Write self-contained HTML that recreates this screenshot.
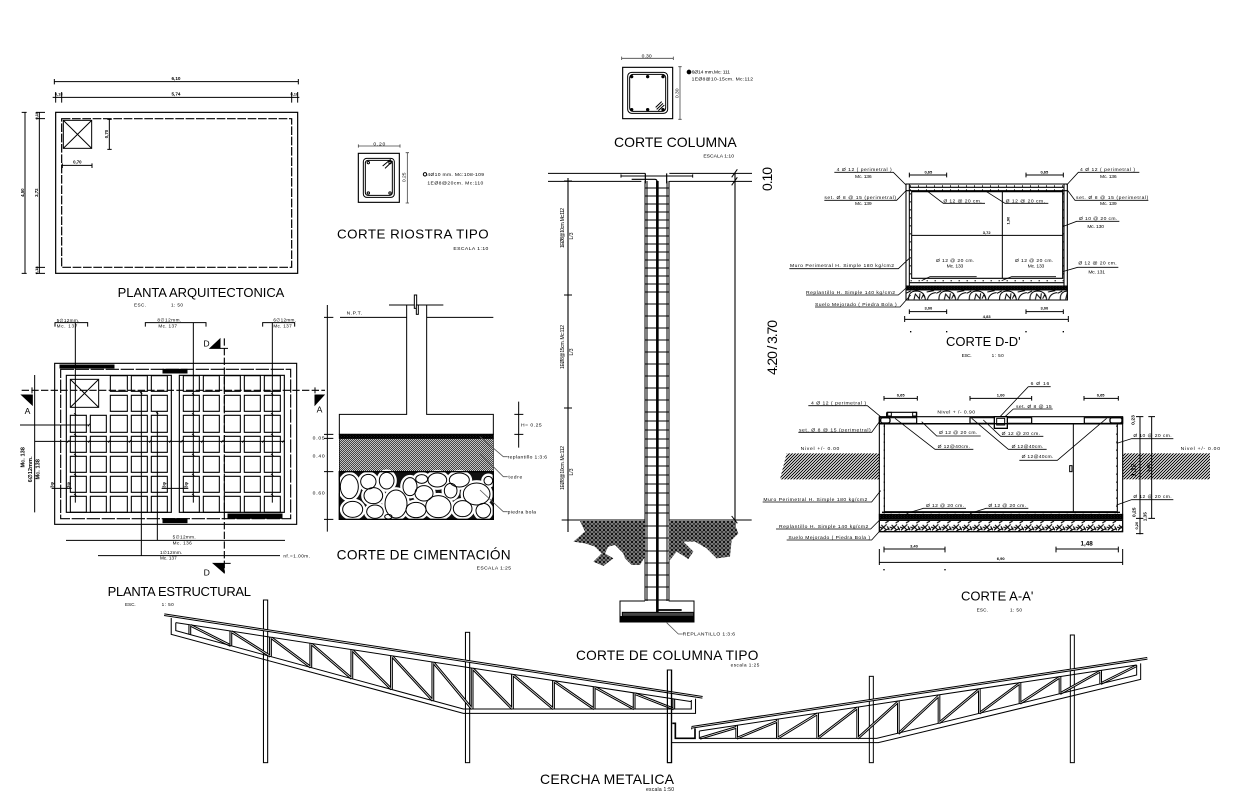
<!DOCTYPE html>
<html><head><meta charset="utf-8"><title>Planos</title>
<style>
html,body{margin:0;padding:0;background:#fff}
svg{display:block}
text{font-family:"Liberation Sans",sans-serif;fill:#000;stroke:none}
.b{font-weight:bold}
.m{text-anchor:middle}
.thin{stroke-width:2}
</style></head><body>
<svg xmlns="http://www.w3.org/2000/svg" width="1242" height="804" viewBox="0 0 1242 804" fill="none" stroke="#000" stroke-width="3">
<defs>
<pattern id="h" patternUnits="userSpaceOnUse" width="6" height="6"><path d="M-2 8L8 -2M-2 2L2 -2M4 8L8 4" stroke="#000" stroke-width="2" fill="none"/></pattern>
<pattern id="hl" patternUnits="userSpaceOnUse" width="9" height="9"><path d="M-3 12L12 -3M-3 3L3 -3M6 12L12 6" stroke="#000" stroke-width="3" fill="none"/></pattern>
<pattern id="sp" patternUnits="userSpaceOnUse" width="9" height="6"><rect width="9" height="6" fill="#555"/><circle cx="2" cy="2" r="2" fill="#fff"/><circle cx="6.5" cy="4.5" r="1.8" fill="#fff"/></pattern>
<pattern id="ea" patternUnits="userSpaceOnUse" width="12" height="12"><rect width="12" height="12" fill="#333"/><path d="M0 6L6 0M6 12L12 6M6 0L12 6M0 6L6 12" stroke="#aaa" stroke-width="1.6"/></pattern>
<pattern id="stD" patternUnits="userSpaceOnUse" x="378" y="390" width="91" height="30"><path d="M8 30Q6 4 30 3Q56 3 58 30M64 30Q68 10 90 8M24 28L28 12L40 26L42 10M46 26L52 14L58 26M0 10L14 3M62 6L84 2" stroke="#000" stroke-width="3" fill="none"/></pattern>
<pattern id="stA" patternUnits="userSpaceOnUse" x="358" y="436" width="31" height="35"><path d="M3 30L22 12M6 14L20 28M14 32L30 24M18 8L28 2M0 20L10 24M24 18L30 30" stroke="#000" stroke-width="3.4" fill="none"/></pattern>
<path id="tl" d="M12 44L1547 292M85 74V104M202 93V137M315 112V169M430 130V202M547 149V236M660 167V268M778 186V302M890 204V327M1005 223V327M1122 242V327M1238 260V327M1352 279V327M1465 297V327M87 76L202 137M204 95L315 169M317 113L430 202M432 132L547 236M549 151L660 268M662 169L778 302M780 188L890 327M892 206L1005 327M1007 225L1122 327M1238 327L1124 244M1240 262L1352 327M1354 281L1465 327"/>
<path id="tr" d="M95 292L1462 85M230 286V325M352 268V325M473 249V325M593 231V325M715 213V311M837 194V279M958 176V250M1080 157V220M1200 139V191M1322 121V161M120 325L230 292M230 325L352 274M352 325L473 251M473 325L593 233M593 325L715 215M715 311L837 197M837 279L958 178M958 250L1080 159M1080 220L1200 141M1200 191L1322 123M1322 161L1430 107"/>
<g id="stn"><ellipse cx="88" cy="590" rx="27" ry="36"/><ellipse cx="145" cy="575" rx="23" ry="22"/><ellipse cx="200" cy="572" rx="22" ry="25"/><ellipse cx="160" cy="617" rx="28" ry="24"/><ellipse cx="165" cy="665" rx="25" ry="20"/><ellipse cx="98" cy="658" rx="30" ry="24"/><ellipse cx="228" cy="642" rx="33" ry="42"/><ellipse cx="270" cy="590" rx="21" ry="27"/><ellipse cx="305" cy="567" rx="18" ry="13"/><ellipse cx="352" cy="570" rx="28" ry="21"/><ellipse cx="312" cy="610" rx="27" ry="23"/><ellipse cx="288" cy="660" rx="30" ry="23"/><ellipse cx="355" cy="650" rx="38" ry="33"/><ellipse cx="418" cy="570" rx="30" ry="21"/><ellipse cx="470" cy="612" rx="40" ry="33"/><ellipse cx="428" cy="656" rx="28" ry="24"/><ellipse cx="490" cy="662" rx="22" ry="22"/><ellipse cx="392" cy="602" rx="19" ry="22"/><ellipse cx="505" cy="572" rx="13" ry="13"/><ellipse cx="205" cy="680" rx="11" ry="7"/></g>
</defs>

<!-- PLANTA ARQUITECTONICA -->
<g transform="translate(20,60) scale(.33333)">
<rect x="107" y="157" width="726" height="483" stroke-width="3.6"/>
<rect x="125" y="176" width="690" height="446" stroke-width="3.6" stroke-dasharray="26 5"/>
<rect x="130" y="181" width="85" height="84"/><path d="M130 181L215 265M215 181L130 265"/>
<path d="M103 65H835M103 57V73M835 57V73M103 112H838M107 96V128M125 96V128M815 96V128M833 96V128M98 112H112M820 112H838"/>
<path d="M15 157V640M5 157H20M5 640H20M58 157V640M48 157H75M48 176H75M48 622H75M48 640H75"/>
<path d="M268 178V268M262 178H275M262 268H275M127 316H216M127 310V324M216 310V324"/>
<text class="b m" x="468" y="60" font-size="14">6,10</text><text class="b m" x="468" y="106" font-size="14">5,74</text>
<text class="b m" x="116" y="106" font-size="12">0,18</text><text class="b m" x="823" y="106" font-size="12">0,18</text>
<text class="b m" x="172" y="311" font-size="13">0,70</text>
<text class="b m" font-size="13" transform="translate(12,398) rotate(-90)">4,50</text>
<text class="b m" font-size="13" transform="translate(54,398) rotate(-90)">3,72</text>
<text class="b m" font-size="12" transform="translate(54,167) rotate(-90)">0,18</text>
<text class="b m" font-size="12" transform="translate(54,631) rotate(-90)">0,18</text>
<text class="b m" font-size="13" transform="translate(264,222) rotate(-90)">0,70</text>
<text x="293" y="711" font-size="39" textLength="500">PLANTA ARQUITECTONICA</text>
<text x="342" y="740" font-size="14" textLength="36">ESC.</text><text x="453" y="740" font-size="14" textLength="36">1: 50</text>
</g>

<!-- PLANTA ESTRUCTURAL -->
<g transform="translate(20,310) scale(.33333)">
<rect x="104" y="160" width="726" height="483" stroke-width="3.4"/>
<rect x="122" y="178" width="690" height="448" stroke-width="3.4" stroke-dasharray="40 5"/>
<rect x="139" y="196" width="315" height="411" stroke-width="3.4"/>
<rect x="478" y="196" width="315" height="411" stroke-width="3.4"/>
<rect x="151" y="208" width="85" height="84"/><path d="M151 208L236 292M236 208L151 292"/>
<path stroke-width="3.2" d="M271 197h51v47h-51zM334 197h48v47h-48zM394 197h48v47h-48zM490 197h48v47h-48zM550 197h48v47h-48zM613 197h48v47h-48zM673 197h48v47h-48zM733 197h48v47h-48z
M271 256h51v48h-51zM334 256h48v48h-48zM394 256h48v48h-48zM490 256h48v48h-48zM550 256h48v48h-48zM613 256h48v48h-48zM673 256h48v48h-48zM733 256h48v48h-48z
M151 316h48v51h-48zM211 316h48v51h-48zM271 316h51v51h-51zM334 316h48v51h-48zM394 316h48v51h-48zM490 316h48v51h-48zM550 316h48v51h-48zM613 316h48v51h-48zM673 316h48v51h-48zM733 316h48v51h-48z
M151 379h48v48h-48zM211 379h48v48h-48zM271 379h51v48h-51zM334 379h48v48h-48zM394 379h48v48h-48zM490 379h48v48h-48zM550 379h48v48h-48zM613 379h48v48h-48zM673 379h48v48h-48zM733 379h48v48h-48z
M151 439h48v48h-48zM211 439h48v48h-48zM271 439h51v48h-51zM334 439h48v48h-48zM394 439h48v48h-48zM490 439h48v48h-48zM550 439h48v48h-48zM613 439h48v48h-48zM673 439h48v48h-48zM733 439h48v48h-48z
M151 499h48v48h-48zM211 499h48v48h-48zM271 499h51v48h-51zM334 499h48v48h-48zM394 499h48v48h-48zM490 499h48v48h-48zM550 499h48v48h-48zM613 499h48v48h-48zM673 499h48v48h-48zM733 499h48v48h-48z
M151 559h48v48h-48zM211 559h48v48h-48zM271 559h51v48h-51zM334 559h48v48h-48zM394 559h48v48h-48zM490 559h48v48h-48zM550 559h48v48h-48zM613 559h48v48h-48zM673 559h48v48h-48zM733 559h48v48h-48z"/>
<path d="M5 241H915" stroke-width="3.4" stroke-dasharray="22 7"/>
<path d="M613 85V790" stroke-width="3.4" stroke-dasharray="22 7"/>
<path d="M36 232V250M885 232V250M600 115H624M612 760H632"/>
<rect x="120" y="165" width="162" height="9" fill="#000"/><rect x="429" y="178" width="72" height="11" fill="#000"/>
<rect x="429" y="626" width="72" height="12" fill="#000"/><rect x="624" y="612" width="162" height="13" fill="#000"/>
<path d="M166 38V578M105 50V38H203V50M520 38V578M376 50V38H558V50M757 38V578M728 50V38H824V50"/>
<path d="M138 691H795M412 305V691M234 737H780M364 244V737M0 345H208M45 394H795M44 195V607M95 535H155M425 535H505"/>
<path stroke-width="2.4" d="M142 398l6-8M205 398l6-8M265 398l6-8M327 398l6-8M388 398l6-8M448 398l6-8M482 398l6-8M544 398l6-8M604 398l6-8M667 398l6-8M727 398l6-8M787 398l6-8M204 349l6-8M162 310l7 5M162 372l7 5M162 432l7 5M162 492l7 5M162 552l7 5M516 250l7 5M516 310l7 5M516 372l7 5M516 432l7 5M516 492l7 5M516 552l7 5M753 250l7 5M753 310l7 5M753 372l7 5M753 432l7 5M753 492l7 5M753 552l7 5M360 247l7 5M408 307l7 5"/>
<path d="M5 255H37V285ZM885 255H912L885 285ZM570 115L600 87V115ZM580 760H612V788Z" fill="#000"/>
<text x="14" y="312" font-size="26" textLength="16">A</text><text x="890" y="308" font-size="26" textLength="18">A</text>
<text x="550" y="110" font-size="26" textLength="18">D</text><text x="551" y="797" font-size="26" textLength="18">D</text>
<g font-size="14"><text x="110" y="36" textLength="68">5∅12mm.</text><text x="110" y="52" textLength="62">Mc. 137</text>
<text x="412" y="34" textLength="72">8∅12mm.</text><text x="415" y="53" textLength="56">Mc. 137</text>
<text x="760" y="34" textLength="68">6∅12mm.</text><text x="760" y="52" textLength="55">Mc. 137</text>
<text x="458" y="686" textLength="69">5∅12mm.</text><text x="458" y="704" textLength="57">Mc. 136</text>
<text x="420" y="732" textLength="67">1∅12mm.</text><text x="420" y="749" textLength="50">Mc. 137</text>
<text x="790" y="743" textLength="80">nf.=1.00m.</text></g>
<g font-size="17" font-weight="bold" text-anchor="middle">
<text transform="translate(14,442) rotate(-90)">Mc. 138</text>
<text transform="translate(36,478) rotate(-90)">6∅12mm.</text>
<text transform="translate(58,478) rotate(-90)">Mc. 138</text>
<text transform="translate(101,525) rotate(-90)" font-size="14">3φ</text><text transform="translate(150,525) rotate(-90)" font-size="14">3φ</text>
<text transform="translate(437,525) rotate(-90)" font-size="14">3φ</text><text transform="translate(503,525) rotate(-90)" font-size="14">3φ</text></g>
<text x="263" y="858" font-size="39" textLength="430">PLANTA ESTRUCTURAL</text>
<text x="315" y="888" font-size="14" textLength="32">ESC.</text><text x="425" y="888" font-size="14" textLength="36">1: 50</text>
</g>

<!-- CIMENTACION -->
<g transform="translate(320,290) scale(.33333)">
<path d="M207 45H370M260 45V373H58V433H520V373H320V45M60 82H260M320 82H520"/>
<rect x="283" y="15" width="7" height="40" fill="#fff"/><rect x="289" y="45" width="6" height="28" fill="#fff"/>
<path d="M22 45V725M12 82H40M12 433H40M12 445H40M12 545H40M12 688H40M596 335V473M583 373H610M583 433H610"/>
<rect x="58" y="433" width="462" height="12" fill="url(#sp)"/>
<rect x="58" y="445" width="462" height="100" fill="url(#h)" stroke-width="2"/>
<rect x="58" y="545" width="462" height="143" fill="#111"/>
<use href="#stn" fill="#fff" stroke="#fff" stroke-width="17"/>
<use href="#stn" fill="none" stroke="#000" stroke-width="3"/>
<rect x="58" y="545" width="462" height="143" stroke-width="4"/>
<path stroke="#555" stroke-width="2.4" d="M480 440L550 500H563M480 490L550 560H563M480 600L550 665H563"/>
<g font-size="15"><text x="80" y="74" textLength="46">N.P.T.</text>
<text x="603" y="409" textLength="62">H= 0.25</text>
<text x="563" y="506" textLength="118">replantillo 1:3:6</text>
<text x="565" y="566" textLength="42">tedre</text>
<text x="563" y="671" textLength="85">piedra bola</text>
<text x="470" y="838" textLength="103">ESCALA 1:25</text>
<text x="-22" y="448" textLength="36">0.05</text><text x="-22" y="502" textLength="36">0.40</text><text x="-22" y="613" textLength="36">0.60</text></g>
<text x="50" y="808" font-size="41" textLength="522">CORTE DE CIMENTACIÓN</text>
</g>

<!-- RIOSTRA -->
<g transform="translate(340,140) scale(.33333)">
<rect x="55" y="40" width="123" height="147" stroke-width="3.4"/>
<rect x="70" y="55" width="93" height="117" rx="10" stroke-width="3"/><rect x="76" y="61" width="81" height="105" rx="8" stroke-width="3"/>
<circle cx="85" cy="68" r="3.5"/><circle cx="150" cy="68" r="3.5"/><circle cx="85" cy="159" r="3.5"/><circle cx="150" cy="159" r="3.5"/>
<path d="M128 78L152 58M135 85L158 63" stroke-width="3"/>
<path stroke="#444" stroke-width="2.4" d="M55 18H180M55 13V23M180 13V23M202 38V189M197 38H207M197 189H207"/>
<circle cx="255" cy="103" r="5" stroke-width="3"/>
<g font-size="15"><text x="100" y="16" textLength="36">0.20</text>
<text class="m" transform="translate(196,112) rotate(-90)">0.25</text>
<text x="262" y="108" textLength="170">4Ø10 mm. Mc:108-109</text>
<text x="262" y="134" textLength="168">1EØ8@20cm. Mc:110</text>
<text x="340" y="330" textLength="105">ESCALA 1:10</text></g>
<text x="-9" y="296" font-size="40" textLength="455">CORTE RIOSTRA TIPO</text>
</g>

<!-- COLUMNA SECCION -->
<g transform="translate(540,40) scale(.33333)">
<rect x="248" y="82" width="150" height="154" stroke-width="3.4"/>
<rect x="263" y="97" width="120" height="123" rx="12" stroke-width="3"/><rect x="269" y="103" width="108" height="111" rx="10" stroke-width="3"/>
<g fill="#000" stroke="none"><circle cx="275" cy="110" r="5"/><circle cx="323" cy="110" r="5"/><circle cx="369" cy="110" r="5"/><circle cx="275" cy="209" r="5"/><circle cx="323" cy="209" r="5"/><circle cx="369" cy="209" r="5"/><circle cx="447" cy="96" r="7"/></g>
<path d="M347 202L365 185M355 212L373 195M350 208L369 190" stroke-width="3"/>
<path stroke="#444" stroke-width="2.4" d="M245 55H400M245 50V60M400 50V60M420 80V238M415 80H425M415 238H425"/>
<g font-size="15"><text x="305" y="52" textLength="30">0.30</text>
<text class="m" transform="translate(415,160) rotate(-90)">0.30</text>
<text x="455" y="101" textLength="115">6Ø14 mm.Mc: 111</text>
<text x="455" y="121" textLength="184">1EØ8@10-15cm. Mc:112</text>
<text x="490" y="353" textLength="92">ESCALA 1:10</text></g>
<text x="222" y="321" font-size="42" textLength="368">CORTE COLUMNA</text>
<path d="M24 400H316M388 400H636M24 424H304M388 424H636M575 412L592 388M575 436L592 412"/>
<path d="M243 408H458M243 403V413M458 403V413"/>
<path d="M275 418H345Q352 418 352 430M316 400V430M380 400V430" stroke-width="3.6"/>
</g>

<!-- COLUMNA ALZADO -->
<g>
<path stroke-width="1.1" d="M568 178V532M564 181h8M564 295h8M564 408h8M564 520h8M735 173V530"/>
<path stroke-width="1" d="M645 181V601M647 181V601M667 181V601M669 181V601"/>
<path stroke-width="1.3" d="M656.7 181V615M658 181V615"/>
<path stroke-width="1.1" d="M645 188h24M645 196h24M645 204h24M645 212h24M645 220h24M645 228h24M645 236h24M645 244h24M645 252h24M645 260h24M645 268h24M645 276h24M645 284h24M645 292h24M645 304h24M645 316h24M645 328h24M645 340h24M645 352h24M645 364h24M645 376h24M645 388h24M645 400h24M645 412h24M645 421h24M645 430h24M645 439h24M645 448h24M645 457h24M645 466h24M645 475h24M645 484h24M645 493h24M645 505h24M645 513h24M645 526h24M645 538h24M645 551h24M645 563h24M645 575h24M645 587h24M645 600h24"/>
<g font-size="5" text-anchor="middle">
<text transform="translate(564,228) rotate(-90)" textLength="40">1EØ8@10cm. Mc:112</text>
<text transform="translate(564,347) rotate(-90)" textLength="44">1EØ8@15cm. Mc:112</text>
<text transform="translate(564,468) rotate(-90)" textLength="44">1EØ8@10cm. Mc:112</text>
<text transform="translate(573,236) rotate(-90)">L/3</text>
<text transform="translate(573,352) rotate(-90)">L/3</text>
<text transform="translate(573,472) rotate(-90)">L/3</text></g>
<text font-size="14" transform="translate(772,191) rotate(-90)" textLength="24">0.10</text>
<text font-size="14" transform="translate(777,375) rotate(-90)" textLength="55">4.20 / 3.70</text>
</g>
<g transform="translate(560,490) scale(.33333)">
<path d="M60 93H255V200L240 225H215L195 205L190 190L165 165L145 170L135 190L160 205L130 228L100 215L125 190L105 170L75 160L40 155L75 125Z" fill="url(#ea)" stroke="none"/>
<path d="M326 93H520L535 130L515 150L510 200L470 205L455 190L440 175L405 155L370 155L400 185L385 207L350 185L326 215Z" fill="url(#ea)" stroke="none"/>
<path d="M5 90H256M326 90H575M515 78L532 100"/>
<path d="M255 333H180V380H402V333H326"/>
<rect x="187" y="367" width="214" height="12" fill="#444"/>
<rect x="180" y="380" width="222" height="16" fill="#000"/>
<path d="M292 360H365" stroke-width="5"/>
<path stroke="#555" stroke-width="2.4" d="M320 398L355 432H368"/>
<text x="368" y="437" font-size="15" textLength="157">REPLANTILLO 1:3:6</text>
<text x="48" y="510" font-size="41" textLength="547">CORTE DE COLUMNA TIPO</text>
<text x="512" y="530" font-size="14" textLength="86">escala 1:25</text>
</g>

<!-- CORTE D-D -->
<g transform="translate(780,160) scale(.33333)">
<path stroke-width="3.2" d="M378 72H862V420H378ZM378 92H862M378 378H862M378 390H862M395 95H848V355H395ZM388 82H852M388 72V378M852 72V378M388 368H852"/>
<path stroke-width="4" stroke-dasharray="3 21" d="M390 78H860M390 90H860M391 100V352M851 100V352M392 362H850"/>
<rect x="378" y="378" width="484" height="12" fill="url(#sp)"/>
<rect x="378" y="390" width="484" height="30" fill="url(#stD)"/>
<path d="M667 95V355M395 226H848"/>
<path d="M388 45H500M388 38V52M500 38V52M738 45H850M738 38V52M850 38V52M388 455H500M388 448V462M500 448V462M738 455H850M738 448V462M850 448V462M374 478H865M374 468V486M865 468V486"/>
<path d="M392 513v4M500 513v4M738 513v4M850 513v4" stroke-width="4"/>
<path stroke-width="2.4" d="M163 37H340L378 75M1078 37H895L860 75M133 121H350L380 90M1105 121H885L862 90M615 130H490L440 92M805 130H675L615 92M1018 184H890L848 200M1015 322H893L848 335M590 350H450L425 362M828 350H695L665 362M28 326H355L388 295M78 405H355L385 378M105 441H360L392 405"/>
<g font-size="15">
<text x="170" y="33" textLength="165">4 Ø 12 ( perimetral )</text><text x="225" y="54" textLength="50">Mc. 136</text>
<text x="900" y="33" textLength="165">4 Ø 12 ( perimetral )</text><text x="960" y="54" textLength="50">Mc. 136</text>
<text x="133" y="117" textLength="215">set. Ø 8 @ 15 (perimetral)</text><text x="225" y="135" textLength="50">Mc. 139</text>
<text x="888" y="117" textLength="217">set. Ø 8 @ 15 (perimetral)</text><text x="960" y="135" textLength="50">Mc. 139</text>
<text x="490" y="127" textLength="115">Ø 12 @ 20 cm.</text><text x="677" y="127" textLength="118">Ø 12 @ 20 cm.</text>
<text x="897" y="180" textLength="115">Ø 10 @ 20 cm.</text><text x="922" y="204" textLength="50">Mc. 130</text>
<text x="895" y="314" textLength="115">Ø 12 @ 20 cm.</text><text x="925" y="341" textLength="50">Mc. 131</text>
<text x="468" y="306" textLength="115">Ø 12 @ 20 cm.</text><text x="500" y="323" textLength="50">Mc. 133</text>
<text x="705" y="306" textLength="115">Ø 12 @ 20 cm.</text><text x="743" y="323" textLength="50">Mc. 133</text>
<text x="30" y="321" textLength="312">Muro Perimetral H. Simple 180 kg/cm2</text>
<text x="78" y="402" textLength="267">Replantillo H. Simple 140 kg/cm2</text>
<text x="105" y="438" textLength="245">Suelo Mejorado ( Piedra Bola )</text>
</g>
<g font-size="12" font-weight="bold" text-anchor="middle"><text x="445" y="41">0,65</text><text x="793" y="41">0,65</text><text x="445" y="448">3,00</text><text x="793" y="448">3,00</text><text x="620" y="474">4,83</text><text x="620" y="222">3,72</text><text transform="translate(688,182) rotate(-90)">1,90</text></g>
<text x="498" y="558" font-size="39" textLength="224">CORTE D-D'</text>
<text x="545" y="591" font-size="14" textLength="30">ESC.</text><text x="635" y="591" font-size="14" textLength="36">1: 50</text>
</g>

<!-- CORTE A-A -->
<g transform="translate(760,375) scale(.33333)">
<path d="M80 235H358V313H60Z" fill="url(#hl)" stroke="none"/>
<rect x="1088" y="235" width="262" height="78" fill="url(#hl)" stroke="none"/>
<path stroke-width="3.2" d="M358 125H1088V470H358ZM358 147H1088M373 147V410H1072V147M358 430H1088M358 436H1088"/>
<rect x="373" y="410" width="699" height="20" fill="#fff" stroke-width="1"/>
<path stroke-width="3.6" d="M358 128H470V145H358ZM630 128H815V145H630ZM973 128H1088V145H973ZM380 112H470V125M380 112V125M470 112V125"/>
<rect x="383" y="112" width="11" height="11" stroke-width="3"/><rect x="458" y="112" width="11" height="11" stroke-width="3"/>
<rect x="703" y="125" width="39" height="35" fill="#fff" stroke-width="4"/><rect x="710" y="130" width="24" height="20" stroke-width="3"/>
<rect x="1050" y="128" width="36" height="16" rx="6" stroke-width="4"/><rect x="362" y="128" width="28" height="16" rx="6" stroke-width="4"/>
<path stroke-width="4" stroke-dasharray="3 21" d="M373 152V405M1070 152V405M368 418H1080"/>
<path stroke-width="4" d="M366 146H1080M366 412H1080"/>
<rect x="358" y="418" width="730" height="14" fill="url(#sp)"/>
<rect x="358" y="436" width="730" height="34" fill="url(#stA)"/>
<path d="M940 147V410"/>
<rect x="929" y="272" width="7" height="18" stroke-width="3"/>
<path d="M372 70H472M372 63V77M472 63V77M630 70H815M630 63V77M815 63V77M972 70H1075M972 63V77M1075 63V77M372 522H555M372 515V532M555 515V532M888 522H1075M888 515V532M1075 515V532M358 562H1088M358 522V570M1088 522V570M1140 125V478M1128 125H1150M1128 430H1150M1128 476H1150M1175 125V430M1165 125H1185M1165 430H1185"/>
<path d="M372 582v4M555 582v4" stroke-width="4"/>
<path stroke-width="2.4" d="M145 92H322L362 125M115 172H335L362 135M805 35H872M805 35L720 125M760 102H878M760 102L735 125M662 183H530L485 140M850 184H722L670 135M640 223H525L405 130M860 223H745L635 130M778 256H892L1040 130M1240 191H1115L1070 205M1240 374H1115L1070 390M618 400H490L440 415M805 400H678L630 415M8 381H335L362 347M48 462H332L362 432M80 495H335L362 465"/>
<g font-size="15">
<text x="153" y="88" textLength="165">4 Ø 12 ( perimetral )</text>
<text x="117" y="169" textLength="215">set. Ø 8 @ 15 (perimetral)</text>
<text x="122" y="225" textLength="116">Nivel +/- 0.00</text>
<text x="532" y="116" textLength="113">Nivel + /- 0.90</text>
<text x="812" y="30" textLength="56">6 Ø 16</text>
<text x="768" y="99" textLength="107">set. Ø 8 @ 15</text>
<text x="537" y="177" textLength="115">Ø 12 @ 20 cm.</text>
<text x="725" y="180" textLength="115">Ø 12 @ 20 cm.</text>
<text x="533" y="219" textLength="97">Ø 12@40cm.</text>
<text x="755" y="219" textLength="95">Ø 12@40cm.</text>
<text x="785" y="249" textLength="95">Ø 12@40cm.</text>
<text x="1120" y="186" textLength="115">Ø 10 @ 20 cm.</text>
<text x="1120" y="369" textLength="115">Ø 12 @ 20 cm.</text>
<text x="498" y="396" textLength="114">Ø 12 @ 20 cm.</text>
<text x="685" y="396" textLength="113">Ø 12 @ 20 cm.</text>
<text x="10" y="378" textLength="312">Muro Perimetral H. Simple 180 kg/cm2</text>
<text x="57" y="459" textLength="268">Replantillo H. Simple 140 kg/cm2</text>
<text x="85" y="492" textLength="245">Suelo Mejorado ( Piedra Bola )</text>
<text x="1262" y="225" textLength="118">Nivel +/- 0.00</text>
</g>
<g font-size="12" font-weight="bold" text-anchor="middle"><text x="422" y="65">0,65</text><text x="722" y="65">1,00</text><text x="1022" y="65">0,65</text><text x="462" y="517">3,40</text><text x="722" y="555">6,90</text>
<text transform="translate(1124,135) rotate(-90)" font-size="15">0,23</text><text transform="translate(1126,285) rotate(-90)" font-size="20">1,12</text><text transform="translate(1170,278) rotate(-90)" font-size="14">1,90</text><text transform="translate(1126,412) rotate(-90)" font-size="15">0,25</text><text transform="translate(1160,425) rotate(-90)" font-size="14">1,35</text><text transform="translate(1134,452) rotate(-90)">0,20</text></g>
<text class="b m" x="980" y="511" font-size="19">1,48</text>
<text x="603" y="676" font-size="39" textLength="217">CORTE A-A'</text>
<text x="650" y="709" font-size="14" textLength="34">ESC.</text><text x="750" y="709" font-size="14" textLength="36">1: 50</text>
</g>

<!-- CERCHA IZQ -->
<g transform="translate(160,600) scale(.3507,.33333)">
<rect x="295" y="0" width="12" height="488" fill="#fff" stroke-width="3"/>
<rect x="871" y="97" width="12" height="391" fill="#fff"/>
<rect x="1447" y="210" width="12" height="278" fill="#fff"/>
<use href="#tl" stroke="#000" stroke-width="8"/>
<use href="#tl" stroke="#fff" stroke-width="2"/>
<path d="M45 68L1515 305M32 54V103L865 340H1527V296M45 68V92L865 327H1515V300"/>
</g>

<!-- CERCHA DER -->
<g transform="translate(660,630) scale(.33333)">
<path d="M22 120H34V398H22Z"/>
<rect x="628" y="139" width="12" height="259" fill="#fff"/>
<rect x="1231" y="15" width="12" height="383" fill="#fff"/>
<use href="#tr" stroke="#000" stroke-width="8"/>
<use href="#tr" stroke="#fff" stroke-width="2"/>
<path d="M118 303L1430 105M118 303V325H650L1430 135V105M35 338H655L1442 148V100M95 292V298"/>
<path d="M37 280H46V325H105V295" stroke-width="5"/>
</g>
<text x="540" y="784" font-size="14" textLength="134">CERCHA METALICA</text>
<text x="646" y="791" font-size="5" textLength="28">escala 1:50</text>
</svg>
</body></html>
